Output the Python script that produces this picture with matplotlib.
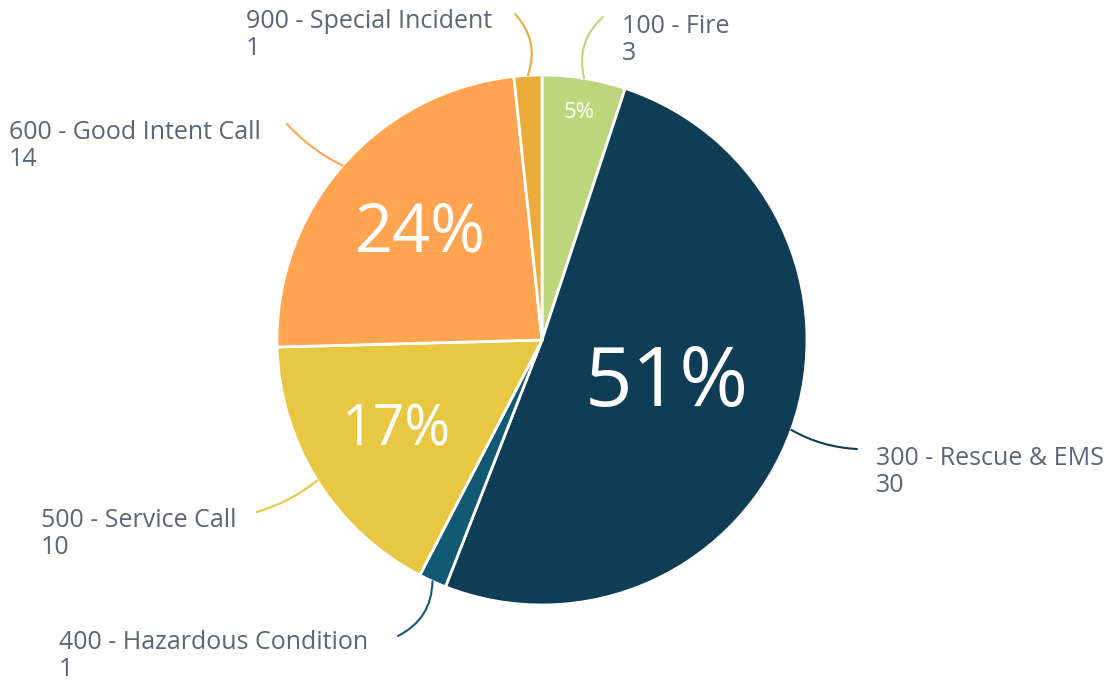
import numpy as np
import matplotlib
matplotlib.use("Agg")
import matplotlib.pyplot as plt

plt.rcParams['font.family'] = ['Open Sans', 'DejaVu Sans']

categories = ["100 - Fire", "300 - Rescue & EMS", "400 - Hazardous Condition",
              "500 - Service Call", "600 - Good Intent Call", "900 - Special Incident"]
counts = [3, 30, 1, 10, 14, 1]
colors = ["#BDD57B", "#0E3D55", "#125A73", "#E8C842", "#FFA551", "#EBAB3A"]

# label layout (pixel coords, y from top): text anchor, line end, curvature
label_pos = [(622, 40), (876, 472), (59, 656), (41, 534), (9, 146), (246, 35)]
line_end = [(603, 17), (857, 449), (398, 636), (257, 512), (287, 124), (515, 14)]
line_rad = [0.3, -0.12, 0.3, 0.1, 0.1, -0.3]
pct_rfrac = [0.87, 0.5, 0, 0.65, 0.61, 0]
pct_size = [16, 60, 0, 40, 48, 0]

W, H = 1110, 682
fig = plt.figure(figsize=(W / 100, H / 100), dpi=100)
ax = fig.add_axes([0, 0, 1, 1])

cx, cy, r = 542, H - 340, 265
wedges, _ = ax.pie(counts, colors=colors, startangle=90, counterclock=False,
                   center=(cx, cy), radius=r, frame=True,
                   wedgeprops=dict(edgecolor='white', linewidth=2))
ax.set_xlim(0, W)
ax.set_ylim(0, H)
ax.set_aspect('equal')
ax.axis('off')

total = sum(counts)
for i, w in enumerate(wedges):
    mid = np.deg2rad((w.theta1 + w.theta2) / 2)
    px, py = cx + r * np.cos(mid), cy + r * np.sin(mid)
    lx, ly = line_end[i]
    ax.annotate("", xy=(px, py), xytext=(lx, H - ly),
                arrowprops=dict(arrowstyle='-', color=colors[i], lw=1.5,
                                shrinkA=0, shrinkB=0,
                                connectionstyle=f"arc3,rad={line_rad[i]}"))
    tx, ty = label_pos[i]
    ax.text(tx, H - ty, f"{categories[i]}\n{counts[i]}", ha='left', va='center',
            fontsize=18, color='#5D6473', linespacing=1.12)
    if pct_size[i]:
        pr = r * pct_rfrac[i]
        pct = round(counts[i] / total * 100)
        ax.text(cx + pr * np.cos(mid), cy + pr * np.sin(mid), f"{pct}%",
                ha='center', va='center', fontsize=pct_size[i], color='white')

fig.savefig("out.png", dpi=100)
